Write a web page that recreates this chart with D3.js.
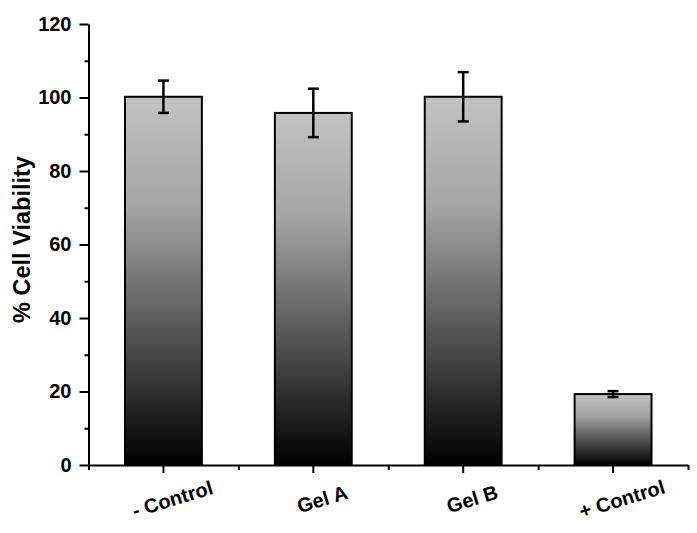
<!DOCTYPE html>
<html>
<head>
<meta charset="utf-8">
<script src="https://cdn.jsdelivr.net/npm/d3@7"></script>
<style>
  html, body { margin: 0; padding: 0; background: #fff; }
  svg { display: block; font-family: Arial, "Liberation Sans", Helvetica, sans-serif; }
</style>
</head>
<body>
<svg id="chart" width="697" height="533"></svg>
<script>
const categories = ["- Control", "Gel A", "Gel B", "+ Control"];
const values = [100.2, 95.8, 100.2, 19.3];
const errors = [4.4, 6.6, 6.7, 0.8];
const yMajorTicks = [0, 20, 40, 60, 80, 100, 120];
const yMinorTicks = [10, 30, 50, 70, 90, 110];
const yTitle = "% Cell Viability";

const svg = d3.select("#chart");
const M = { left: 88.5, right: 688, top: 24, bottom: 465 };

const x = d3.scaleBand().domain(categories).range([M.left, M.right]).padding(0);
const y = d3.scaleLinear().domain([0, 120]).range([M.bottom, M.top]);
const xMinor = d3.scaleLinear().domain([0, categories.length]).range([M.left, M.right]);

// gradient
const defs = svg.append("defs");
const grad = defs.append("linearGradient").attr("id", "barGrad")
  .attr("x1", 0).attr("y1", 0).attr("x2", 0).attr("y2", 1);
grad.append("stop").attr("offset", "0%").attr("stop-color", "#c2c2c2");
grad.append("stop").attr("offset", "30%").attr("stop-color", "#a4a4a4");
grad.append("stop").attr("offset", "100%").attr("stop-color", "#000000");

const bw = x.bandwidth() * 0.513;

// bars
svg.append("g").selectAll("rect").data(values).join("rect")
  .attr("x", (d, i) => x(categories[i]) + x.bandwidth() / 2 - bw / 2)
  .attr("y", d => y(d))
  .attr("width", bw)
  .attr("height", d => y(0) - y(d))
  .attr("fill", "url(#barGrad)")
  .attr("stroke", "#000")
  .attr("stroke-width", 2);

// error bars
const eg = svg.append("g").attr("stroke", "#000").attr("stroke-width", 2.5);
values.forEach((v, i) => {
  const cx = x(categories[i]) + x.bandwidth() / 2;
  const hi = y(v + errors[i]), lo = y(v - errors[i]);
  eg.append("line").attr("x1", cx).attr("x2", cx).attr("y1", hi).attr("y2", lo);
  eg.append("line").attr("x1", cx - 5.5).attr("x2", cx + 5.5).attr("y1", hi).attr("y2", hi);
  eg.append("line").attr("x1", cx - 5.5).attr("x2", cx + 5.5).attr("y1", lo).attr("y2", lo);
});

// y axis
const yAxis = svg.append("g").attr("transform", `translate(${M.left},0)`)
  .call(d3.axisLeft(y).tickValues(yMajorTicks).tickSize(9).tickSizeOuter(0).tickPadding(8));
svg.append("g").attr("transform", `translate(${M.left},0)`)
  .call(d3.axisLeft(y).tickValues(yMinorTicks).tickSize(4).tickFormat(""))
  .call(g => g.select(".domain").remove());

// x axis
const xAxis = svg.append("g").attr("transform", `translate(0,${M.bottom})`)
  .call(d3.axisBottom(x).tickSize(8).tickSizeOuter(0).tickFormat(""));
svg.append("g").attr("transform", `translate(0,${M.bottom})`)
  .call(d3.axisBottom(xMinor).tickValues(d3.range(categories.length + 1)).tickSize(5).tickFormat(""))
  .call(g => g.select(".domain").remove());

svg.selectAll(".domain").attr("stroke", "#000").attr("stroke-width", 2);
svg.selectAll(".tick line").attr("stroke", "#000").attr("stroke-width", 2);
yAxis.selectAll(".tick text").attr("font-size", 20).attr("font-weight", "bold").attr("fill", "#000")
  .attr("font-family", "Arial, 'Liberation Sans', sans-serif");

// x labels
svg.append("g").selectAll("text").data(categories).join("text")
  .attr("transform", d => `translate(${x(d) + x.bandwidth() / 2 + 9},${499}) rotate(-17)`)
  .attr("text-anchor", "middle")
  .attr("dy", "0.35em")
  .attr("font-size", 20)
  .attr("font-weight", "bold")
  .attr("fill", "#000")
  .text(d => d);

// y title
svg.append("text")
  .attr("transform", `translate(22,${(M.top + M.bottom) / 2 - 5}) rotate(-90)`)
  .attr("text-anchor", "middle")
  .attr("dy", "0.35em")
  .attr("font-size", 23.5)
  .attr("font-weight", "bold")
  .attr("fill", "#000")
  .text(yTitle);
</script>
</body>
</html>
